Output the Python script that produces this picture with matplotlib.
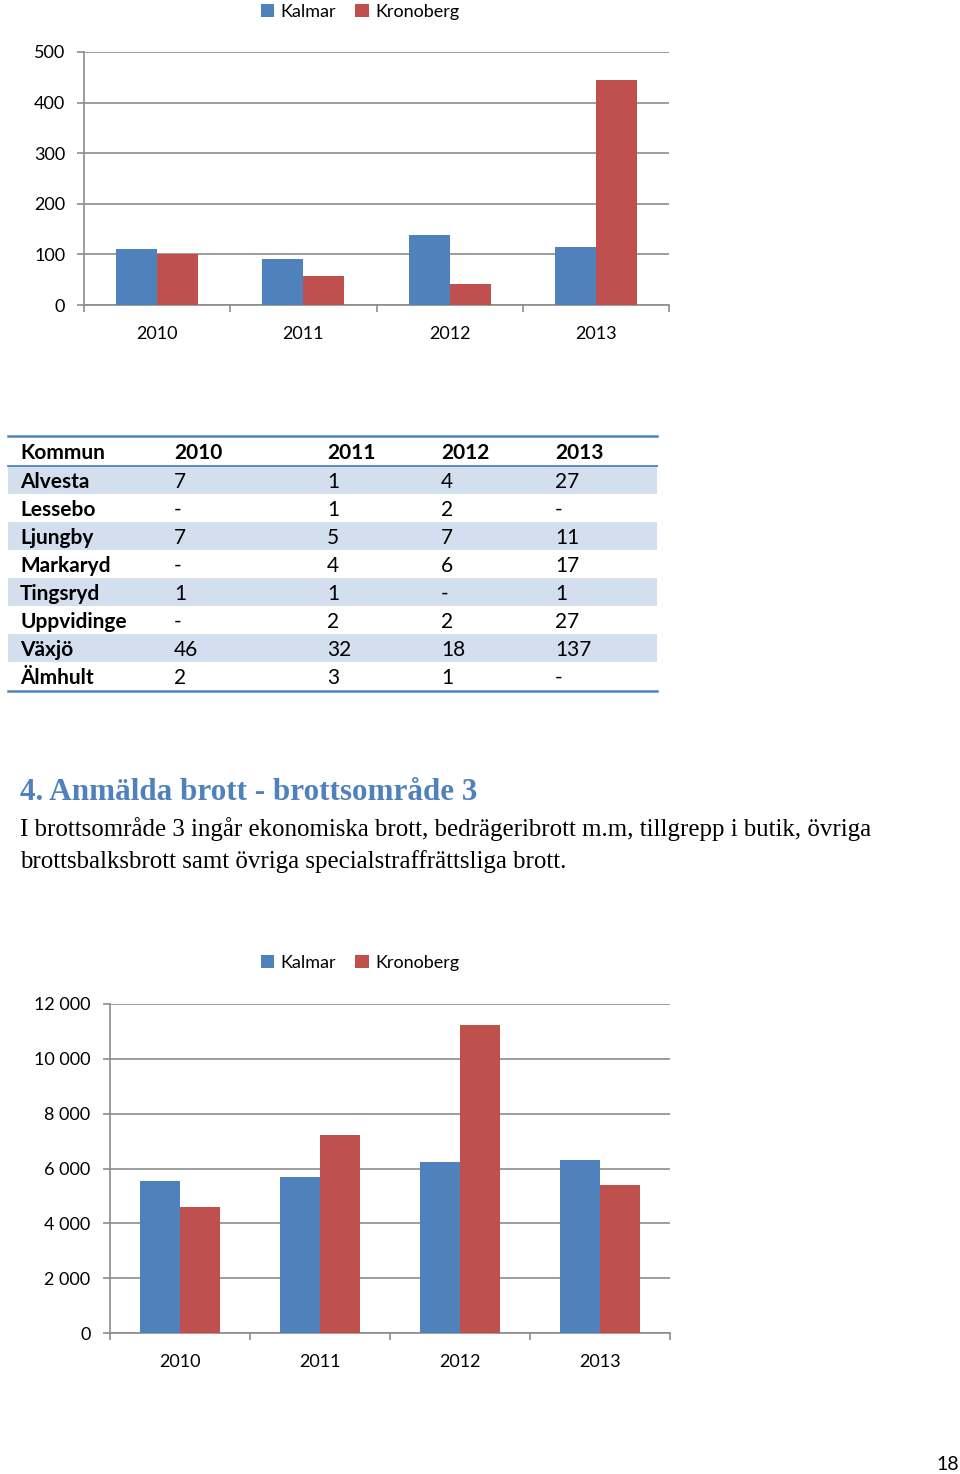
import matplotlib
matplotlib.use("Agg")
import matplotlib.pyplot as plt
from matplotlib.patches import Rectangle, Patch
from matplotlib.ticker import FuncFormatter, FixedLocator

# ---------------- data ----------------
years = ["2010", "2011", "2012", "2013"]
series = ["Kalmar", "Kronoberg"]

# chart 1 (top)
kalmar_1 = [110, 91, 138, 115]
kronoberg_1 = [100, 58, 42, 445]
yticks_1 = [0, 100, 200, 300, 400, 500]

# table
table_header = ["Kommun", "2010", "2011", "2012", "2013"]
kommuner = ["Alvesta", "Lessebo", "Ljungby", "Markaryd", "Tingsryd",
            "Uppvidinge", "Växjö", "Älmhult"]
col_2010 = ["7", "-", "7", "-", "1", "-", "46", "2"]
col_2011 = ["1", "1", "5", "4", "1", "2", "32", "3"]
col_2012 = ["4", "2", "7", "6", "-", "2", "18", "1"]
col_2013 = ["27", "-", "11", "17", "1", "27", "137", "-"]

heading = "4. Anmälda brott - brottsområde 3"
body_lines = [
    "I brottsområde 3 ingår ekonomiska brott, bedrägeribrott m.m, tillgrepp i butik, övriga",
    "brottsbalksbrott samt övriga specialstraffrättsliga brott.",
]

# chart 2 (bottom)
kalmar_2 = [5540, 5700, 6230, 6300]
kronoberg_2 = [4580, 7230, 11250, 5400]
yticks_2 = [0, 2000, 4000, 6000, 8000, 10000, 12000]

page_number = "18"

# ---------------- style ----------------
W, H = 960, 1474
DPI = 100
BLUE = "#4F81BD"
RED = "#C0504D"
GRID = "#8C8C8C"
SHADE = "#D3DFEE"
SANS = ["Lato", "DejaVu Sans"]
SERIF = ["Liberation Serif", "DejaVu Serif"]

fig = plt.figure(figsize=(W / DPI, H / DPI), dpi=DPI)
fig.patch.set_facecolor("white")

# full-page overlay in pixel coordinates for the table and text
page = fig.add_axes([0, 0, 1, 1], zorder=0)
page.set_xlim(0, W)
page.set_ylim(H, 0)
page.axis("off")


def px_axes(left, top, right, bottom):
    return fig.add_axes([left / W, 1 - bottom / H, (right - left) / W, (bottom - top) / H], zorder=2)


def bar_chart(ax, k, r, yticks, fmt, bw, ypad):
    x = list(range(len(years)))
    ax.bar([i - bw / 2 for i in x], k, width=bw, color=BLUE, zorder=3, label=series[0])
    ax.bar([i + bw / 2 for i in x], r, width=bw, color=RED, zorder=3, label=series[1])
    ax.set_xlim(-0.5, len(years) - 0.5)
    ax.set_ylim(yticks[0], yticks[-1])
    ax.set_yticks(yticks)
    ax.yaxis.set_major_formatter(FuncFormatter(fmt))
    ax.set_xticks(x)
    ax.set_xticklabels(years)
    ax.xaxis.set_minor_locator(FixedLocator([i - 0.5 for i in range(len(years) + 1)]))
    ax.tick_params(axis="x", which="major", length=0, pad=15, labelsize=13)
    ax.tick_params(axis="x", which="minor", length=5, width=1.2, color=GRID, direction="out")
    ax.tick_params(axis="y", length=5, width=1.2, color=GRID, direction="out", pad=ypad, labelsize=13)
    for lab in ax.get_xticklabels() + ax.get_yticklabels():
        lab.set_fontfamily(SANS)
    for s in ["top", "right"]:
        ax.spines[s].set_visible(False)
    for s in ["left", "bottom"]:
        ax.spines[s].set_color(GRID)
        ax.spines[s].set_linewidth(1.2)
    ax.grid(axis="y", color=GRID, linewidth=1.2, zorder=1)
    ax.set_axisbelow(True)
    ax.set_facecolor("none")


def legend_at(ycenter):
    handles = [Patch(facecolor=BLUE), Patch(facecolor=RED)]
    leg = fig.legend(handles, series, loc="center", bbox_to_anchor=(360 / W, 1 - ycenter / H),
                     ncol=2, frameon=False, handlelength=0.75, handleheight=0.75,
                     handletextpad=0.35, columnspacing=1.05, prop={"family": SANS, "size": 13})
    return leg


# ---- chart 1 ----
ax1 = px_axes(84, 52, 669, 305)
bar_chart(ax1, kalmar_1, kronoberg_1, yticks_1, lambda v, p: f"{int(v)}", 0.28, 8.5)
legend_at(12)

# ---- table ----
cols_x = [20, 174, 327, 441, 555]
tbl_left, tbl_right = 8, 657
top_line = 436
header_bottom = 466
row_h = 28
columns = [kommuner, col_2010, col_2011, col_2012, col_2013]
TFS = 15
for i in range(len(kommuner)):
    y0 = header_bottom + i * row_h
    if i % 2 == 0:
        page.add_patch(Rectangle((tbl_left, y0), tbl_right - tbl_left, row_h,
                                 facecolor=SHADE, edgecolor="none", zorder=1))
    for j, col in enumerate(columns):
        page.text(cols_x[j], y0 + row_h / 2 + 1.5, col[i], ha="left", va="center",
                  fontsize=TFS, family=SANS, fontweight="bold" if j == 0 else "normal",
                  color="black", zorder=3)
for j, h in enumerate(table_header):
    page.text(cols_x[j], (top_line + header_bottom) / 2 + 1.5, h, ha="left", va="center",
              fontsize=TFS, family=SANS, fontweight="bold", color="black", zorder=3)
bottom_line = header_bottom + len(kommuner) * row_h + 1
page.plot([tbl_left, tbl_right], [top_line, top_line], color=BLUE, linewidth=1.8, zorder=2)
page.plot([tbl_left, tbl_right], [header_bottom, header_bottom], color=BLUE, linewidth=1.3, zorder=2)
page.plot([tbl_left, tbl_right], [bottom_line, bottom_line], color=BLUE, linewidth=1.8, zorder=2)

# ---- heading and body text ----
page.text(20, 792, heading, ha="left", va="center", fontsize=22.4, family=SERIF,
          fontweight="bold", color=BLUE, zorder=3)
page.text(20, 829, body_lines[0], ha="left", va="center", fontsize=17.9, family=SERIF,
          color="black", zorder=3)
page.text(20, 862, body_lines[1], ha="left", va="center", fontsize=17.9, family=SERIF,
          color="black", zorder=3)

# ---- chart 2 ----
ax2 = px_axes(110, 1004, 670, 1333)
bar_chart(ax2, kalmar_2, kronoberg_2, yticks_2,
          lambda v, p: f"{int(v):,}".replace(",", " "), 0.285, 9)
legend_at(963)

# ---- page number ----
page.text(959, 1465, page_number, ha="right", va="center", fontsize=14, family=SANS, color="black")

fig.savefig("out.png", dpi=DPI, facecolor="white")
